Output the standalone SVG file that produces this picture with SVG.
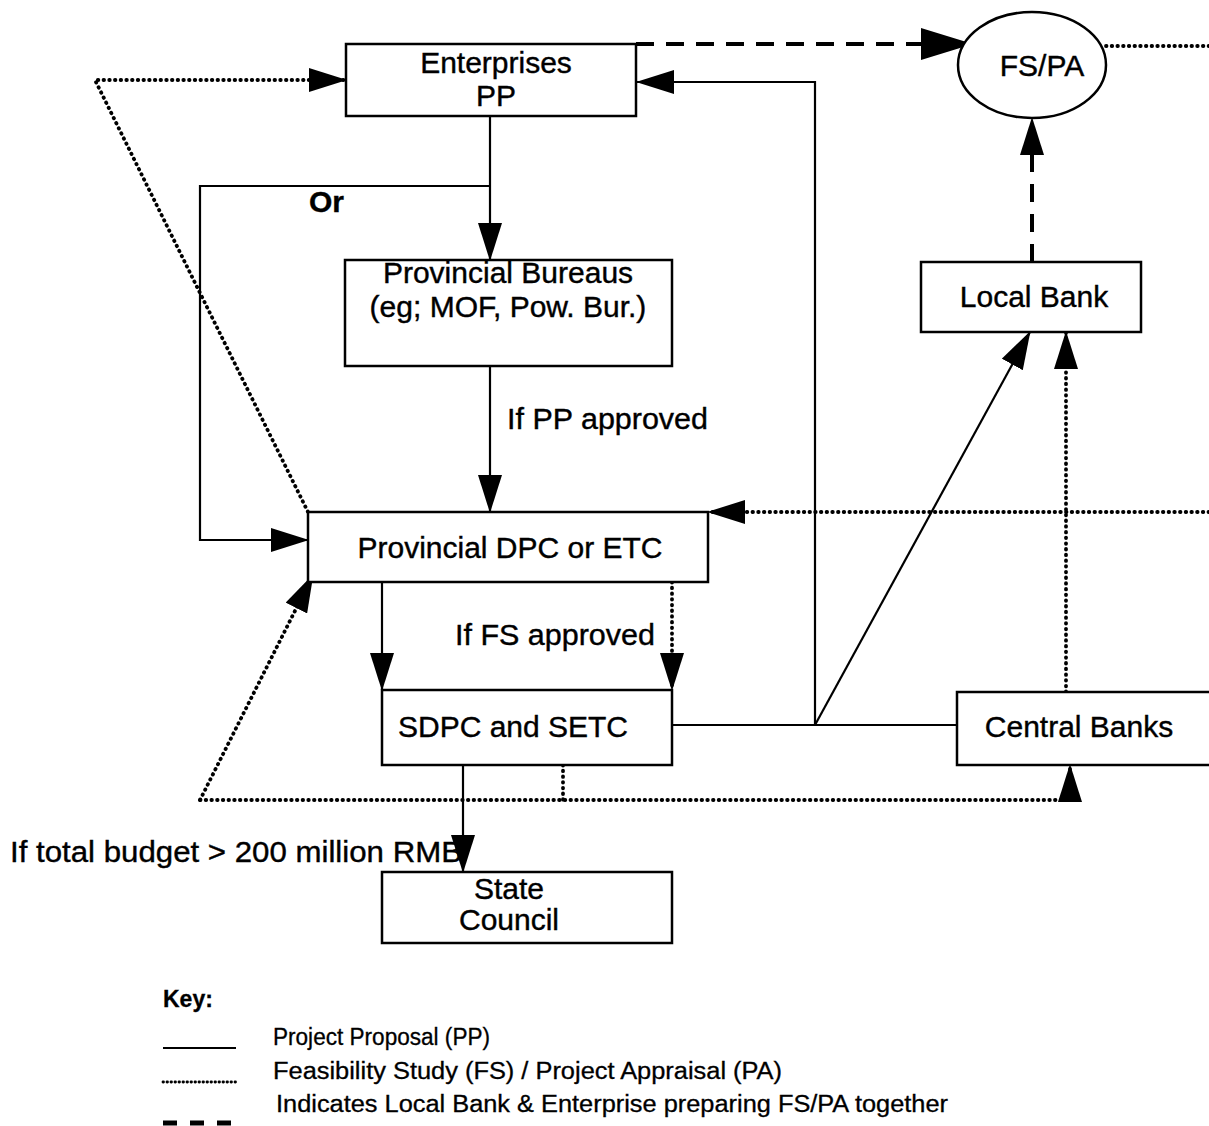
<svg xmlns="http://www.w3.org/2000/svg" width="1209" height="1126" viewBox="0 0 1209 1126">
<style>
.box{fill:#fff;stroke:#000;stroke-width:2.5}
.t{font-family:"Liberation Sans",Arial,sans-serif;font-size:30px;fill:#000;stroke:#000;stroke-width:0.4;text-anchor:middle}
.lbl{font-family:"Liberation Sans",Arial,sans-serif;font-size:30px;fill:#000;stroke:#000;stroke-width:0.4}
.key{font-family:"Liberation Sans",Arial,sans-serif;font-size:23px;fill:#000;stroke:#000;stroke-width:0.3}
.solid{fill:none;stroke:#000;stroke-width:2.2}
.dot{fill:none;stroke:#000;stroke-width:3.8;stroke-dasharray:0.5 5.2;stroke-linecap:round}
.dash{fill:none;stroke:#000;stroke-width:4;stroke-dasharray:18 12}
</style>
<defs>
<marker id="ah" markerWidth="38" markerHeight="24" refX="37" refY="12" orient="auto" markerUnits="userSpaceOnUse">
<path d="M0,0 L38,12 L0,24 z" fill="#000"/>
</marker>
<marker id="ahl" markerWidth="52" markerHeight="32" refX="51" refY="16" orient="auto" markerUnits="userSpaceOnUse">
<path d="M0,0 L52,16 L0,32 z" fill="#000"/>
</marker>
</defs>
<rect width="1209" height="1126" fill="#fff"/>
<g id="connectors">
<path class="dash" d="M636,44 H972" marker-end="url(#ahl)"/>
<path class="dot" d="M1106,46 H1209"/>
<path class="solid" d="M815,725 V82 H637" marker-end="url(#ah)"/>
<path class="solid" d="M490,116 V260" marker-end="url(#ah)"/>
<path class="solid" d="M490,186 H200 V540 H308" marker-end="url(#ah)"/>
<path class="solid" d="M490,366 V512" marker-end="url(#ah)"/>
<path class="dot" d="M1209,512 H708" marker-end="url(#ah)"/>
<path class="dot" d="M308,512 L95,80 H346" marker-end="url(#ah)"/>
<path class="solid" d="M382,582 V690" marker-end="url(#ah)"/>
<path class="dot" d="M672,582 V690" marker-end="url(#ah)"/>
<path class="solid" d="M672,725 H957"/>
<path class="solid" d="M815,725 L1030,332" marker-end="url(#ah)"/>
<path class="dot" d="M1066,692 V332" marker-end="url(#ah)"/>
<path class="dash" d="M1032,262 V118" marker-end="url(#ah)"/>
<path class="dot" d="M200,800 L313,575" marker-end="url(#ah)"/>
<path class="dot" d="M200,800 H1070 V765" marker-end="url(#ah)"/>
<path class="dot" d="M563,765 V800"/>
<path class="solid" d="M463,765 V872" marker-end="url(#ah)"/>
</g>
<g id="enterprises">
<rect class="box" x="346" y="44" width="290" height="72"/>
<text class="t" x="496" y="73">Enterprises</text>
<text class="t" x="496" y="106">PP</text>
</g>
<g id="fspa">
<ellipse cx="1032" cy="65" rx="74" ry="53" fill="#fff" stroke="#000" stroke-width="2.5"/>
<text class="t" x="1042" y="76">FS/PA</text>
</g>
<g id="bureaus">
<rect class="box" x="345" y="260" width="327" height="106"/>
<text class="t" x="508" y="283">Provincial Bureaus</text>
<text class="t" x="508" y="317">(eg; MOF, Pow. Bur.)</text>
</g>
<g id="localbank">
<rect class="box" x="921" y="262" width="220" height="70"/>
<text class="t" x="1034" y="307">Local Bank</text>
</g>
<g id="dpc">
<rect class="box" x="308" y="512" width="400" height="70"/>
<text class="t" x="510" y="558">Provincial DPC or ETC</text>
</g>
<g id="sdpc">
<rect class="box" x="382" y="690" width="290" height="75"/>
<text class="t" x="513" y="737">SDPC and SETC</text>
</g>
<g id="centralbanks">
<rect class="box" x="957" y="692" width="270" height="73"/>
<text class="t" x="1079" y="737">Central Banks</text>
</g>
<g id="statecouncil">
<rect class="box" x="382" y="872" width="290" height="71"/>
<text class="t" x="509" y="899">State</text>
<text class="t" x="509" y="930">Council</text>
</g>
<g id="labels">
<text class="lbl" x="309" y="212" font-weight="bold" font-size="27">Or</text>
<text class="lbl" x="507" y="429" textLength="201" lengthAdjust="spacingAndGlyphs">If PP approved</text>
<text class="lbl" x="455" y="645" textLength="200" lengthAdjust="spacingAndGlyphs">If FS approved</text>
<text class="lbl" x="10" y="862" textLength="452" lengthAdjust="spacingAndGlyphs">If total budget &gt; 200 million RMB</text>
</g>
<g id="key">
<text class="key" x="163" y="1007" font-weight="bold">Key:</text>
<line class="solid" x1="163" y1="1048" x2="236" y2="1048"/>
<text class="key" x="273" y="1045" textLength="217" lengthAdjust="spacingAndGlyphs">Project Proposal (PP)</text>
<line x1="163" y1="1082" x2="236" y2="1082" stroke="#000" stroke-width="2.8" stroke-dasharray="0.5 3.5" stroke-linecap="round"/>
<text class="key" x="273" y="1079" textLength="509" lengthAdjust="spacingAndGlyphs">Feasibility Study (FS) / Project Appraisal (PA)</text>
<text class="key" x="276" y="1112" textLength="672" lengthAdjust="spacingAndGlyphs">Indicates Local Bank &amp; Enterprise preparing FS/PA together</text>
<line x1="163" y1="1123" x2="240" y2="1123" stroke="#000" stroke-width="5" stroke-dasharray="14 13"/>
</g>
</svg>
